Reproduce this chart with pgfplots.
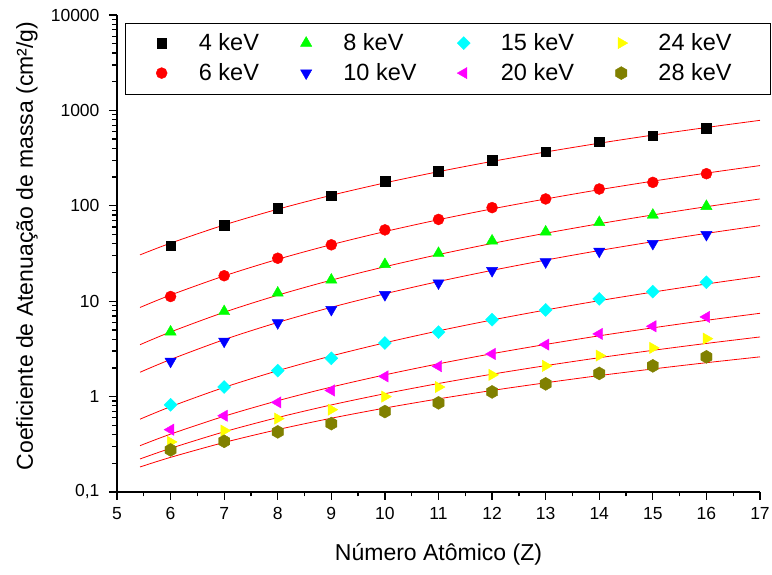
\documentclass[border=0pt]{standalone}
\usepackage{pgfplots}
\pgfplotsset{compat=1.18}
\usepackage{fontspec}
\setmainfont{Liberation Sans}
\definecolor{olivec}{RGB}{128,128,0}
\definecolor{cyanc}{RGB}{0,255,255}
\definecolor{greenc}{RGB}{0,255,0}
\definecolor{bluec}{RGB}{0,0,255}
\definecolor{magc}{RGB}{255,0,255}
\definecolor{yelc}{RGB}{255,255,0}
\definecolor{redc}{RGB}{255,0,0}
\pgfdeclareplotmark{hexagon*}{%
  \pgfpathmoveto{\pgfqpoint{0pt}{\pgfplotmarksize}}%
  \pgfpathlineto{\pgfqpoint{0.866\pgfplotmarksize}{0.5\pgfplotmarksize}}%
  \pgfpathlineto{\pgfqpoint{0.866\pgfplotmarksize}{-0.5\pgfplotmarksize}}%
  \pgfpathlineto{\pgfqpoint{0pt}{-\pgfplotmarksize}}%
  \pgfpathlineto{\pgfqpoint{-0.866\pgfplotmarksize}{-0.5\pgfplotmarksize}}%
  \pgfpathlineto{\pgfqpoint{-0.866\pgfplotmarksize}{0.5\pgfplotmarksize}}%
  \pgfpathclose
  \pgfusepathqfillstroke}
\begin{document}
\begin{tikzpicture}
\begin{axis}[
  at={(0pt,0pt)}, anchor=south west,
  width=643pt, height=477pt, scale only axis,
  xmin=5, xmax=17, ymin=0.1, ymax=10000, ymode=log,
  axis x line*=bottom, axis y line*=left,
  axis line style={line width=1.5pt},
  every tick/.style={black, line width=1.3pt},
  tick align=outside,
  major tick length=8pt, minor tick length=4.5pt,
  xtick={5,6,7,8,9,10,11,12,13,14,15,16,17},
  xticklabels={5,6,7,8,9,10,11,12,13,14,15,16,17},
  minor x tick num=1,
  ytick={0.1,1,10,100,1000,10000},
  yticklabels={{0,1},1,10,100,1000,10000},
  /pgf/number format/assume math mode=true,
  tick label style={font=\fontsize{17.5}{20}\selectfont},
  xticklabel style={yshift=-4pt},
  yticklabel style={xshift=-6pt},
  xlabel={Número Atômico (Z)},
  ylabel={Coeficiente de Atenuação de massa (cm²/g)},
  label style={font=\fontsize{23}{27}\selectfont},
  xlabel style={at={(axis description cs:0.5,0)}, anchor=base, yshift=-68pt},
  ylabel style={at={(axis description cs:-0.14,0.516)}, anchor=center, rotate=0},
  legend columns=4,
  legend cell align=left,
  legend image code/.code={\path (-12pt,-9pt) (37pt,9pt); \draw[#1] plot coordinates {(0pt,0pt)};},
  legend style={draw=none, fill=none, inner sep=0pt,
    at={(axis description cs:0.0502,0.961)}, anchor=north west,
    font=\fontsize{23.5}{27}\selectfont,
    nodes={inner sep=0pt},
    /tikz/every even column/.append style={column sep=35pt},
    /tikz/row sep=11.5pt},
]
% data series (legend order, filled row-wise)
\addplot[only marks, mark=square*, mark size=4.8pt, color=black] coordinates {
(6,38) (7,62.5) (8,95) (9,127) (10,182) (11,232) (12,302) (13,370) (14,468) (15,541) (16,649)};
\addlegendentry{4 keV}
\addplot[only marks, mark=triangle*, mark size=6.5pt, color=greenc] coordinates {
(6,4.77) (7,7.8) (8,12.2) (9,16.7) (10,24.3) (11,31.8) (12,42.9) (13,53.3) (14,67) (15,80) (16,98.8)};
\addlegendentry{8 keV}
\addplot[only marks, mark=square*, mark size=4.6pt, mark options={rotate=45}, color=cyanc] coordinates {
(6,0.82) (7,1.26) (8,1.87) (9,2.52) (10,3.65) (11,4.75) (12,6.41) (13,8.1) (14,10.6) (15,12.6) (16,15.8)};
\addlegendentry{15 keV}
\addplot[only marks, mark=triangle*, mark size=6.5pt, mark options={rotate=-90}, color=yelc] coordinates {
(6,0.335) (7,0.44) (8,0.588) (9,0.73) (10,1.0) (11,1.26) (12,1.69) (13,2.1) (14,2.69) (15,3.24) (16,4.05)};
\addlegendentry{24 keV}
\addplot[only marks, mark=*, mark size=5.5pt, color=redc] coordinates {
(6,11.2) (7,18.5) (8,28.2) (9,39) (10,55.9) (11,72) (12,95.7) (13,118) (14,150) (15,176) (16,217)};
\addlegendentry{6 keV}
\addplot[only marks, mark=triangle*, mark size=6.5pt, mark options={rotate=180}, color=bluec] coordinates {
(6,2.34) (7,3.8) (8,5.93) (9,8.17) (10,11.7) (11,15.5) (12,20.9) (13,25.8) (14,33.3) (15,40.2) (16,49.9)};
\addlegendentry{10 keV}
\addplot[only marks, mark=triangle*, mark size=6.5pt, mark options={rotate=90}, color=magc] coordinates {
(6,0.45) (7,0.63) (8,0.87) (9,1.16) (10,1.63) (11,2.08) (12,2.8) (13,3.51) (14,4.54) (15,5.46) (16,6.84)};
\addlegendentry{20 keV}
\addplot[only marks, mark=hexagon*, mark size=6.5pt, color=olivec] coordinates {
(6,0.276) (7,0.34) (8,0.427) (9,0.521) (10,0.697) (11,0.86) (12,1.12) (13,1.36) (14,1.75) (15,2.1) (16,2.61)};
\addlegendentry{28 keV}
% fitted curves
\addplot[redc, line width=0.8pt, smooth, forget plot] coordinates {
(5.43,30.6) (6,40.6) (7,63.0) (8,92.1) (9,128.9) (10,173.9) (11,228) (12,292) (13,366.6) (14,453) (15,551) (16,662) (17,787)};
\addplot[redc, line width=0.8pt, smooth, forget plot] coordinates {
(5.43,8.6) (6,11.60) (7,18.42) (8,27.51) (9,39.17) (10,53.72) (11,71.50) (12,92.84) (13,117.9) (14,147.5) (15,181.3) (16,220.1) (17,264)};
\addplot[redc, line width=0.8pt, smooth, forget plot] coordinates {
(5.43,3.5) (6,4.76) (7,7.66) (8,11.56) (9,16.62) (10,22.98) (11,30.83) (12,40.32) (13,51.58) (14,64.86) (15,80.22) (16,97.9) (17,118)};
\addplot[redc, line width=0.8pt, smooth, forget plot] coordinates {
(5.43,1.8) (6,2.45) (7,3.96) (8,5.99) (9,8.63) (10,11.96) (11,16.08) (12,21.05) (13,26.97) (14,33.97) (15,42.06) (16,51.4) (17,62)};
\addplot[redc, line width=0.8pt, smooth, forget plot] coordinates {
(5.43,0.58) (6,0.784) (7,1.249) (8,1.868) (9,2.668) (10,3.664) (11,4.887) (12,6.356) (13,8.088) (14,10.13) (15,12.46) (16,15.15) (17,18.2)};
\addplot[redc, line width=0.8pt, smooth, forget plot] coordinates {
(5.43,0.306) (6,0.4045) (7,0.6227) (8,0.9053) (9,1.259) (10,1.690) (11,2.207) (12,2.817) (13,3.523) (14,4.338) (15,5.259) (16,6.304) (17,7.47)};
\addplot[redc, line width=0.8pt, smooth, forget plot] coordinates {
(5.43,0.222) (6,0.287) (7,0.4276) (8,0.6034) (9,0.818) (10,1.073) (11,1.372) (12,1.718) (13,2.111) (14,2.557) (15,3.055) (16,3.609) (17,4.22)};
\addplot[redc, line width=0.8pt, smooth, forget plot] coordinates {
(5.43,0.183) (6,0.2309) (7,0.3306) (8,0.4511) (9,0.5935) (10,0.7586) (11,0.9469) (12,1.16) (13,1.396) (14,1.661) (15,1.949) (16,2.266) (17,2.61)};
\end{axis}
\draw[line width=1pt] (9pt,397pt) rectangle (653pt,468pt);
\pgfresetboundingbox
\useasboundingbox (-117pt,-82pt) rectangle (655pt,492pt);
\end{tikzpicture}
\end{document}
